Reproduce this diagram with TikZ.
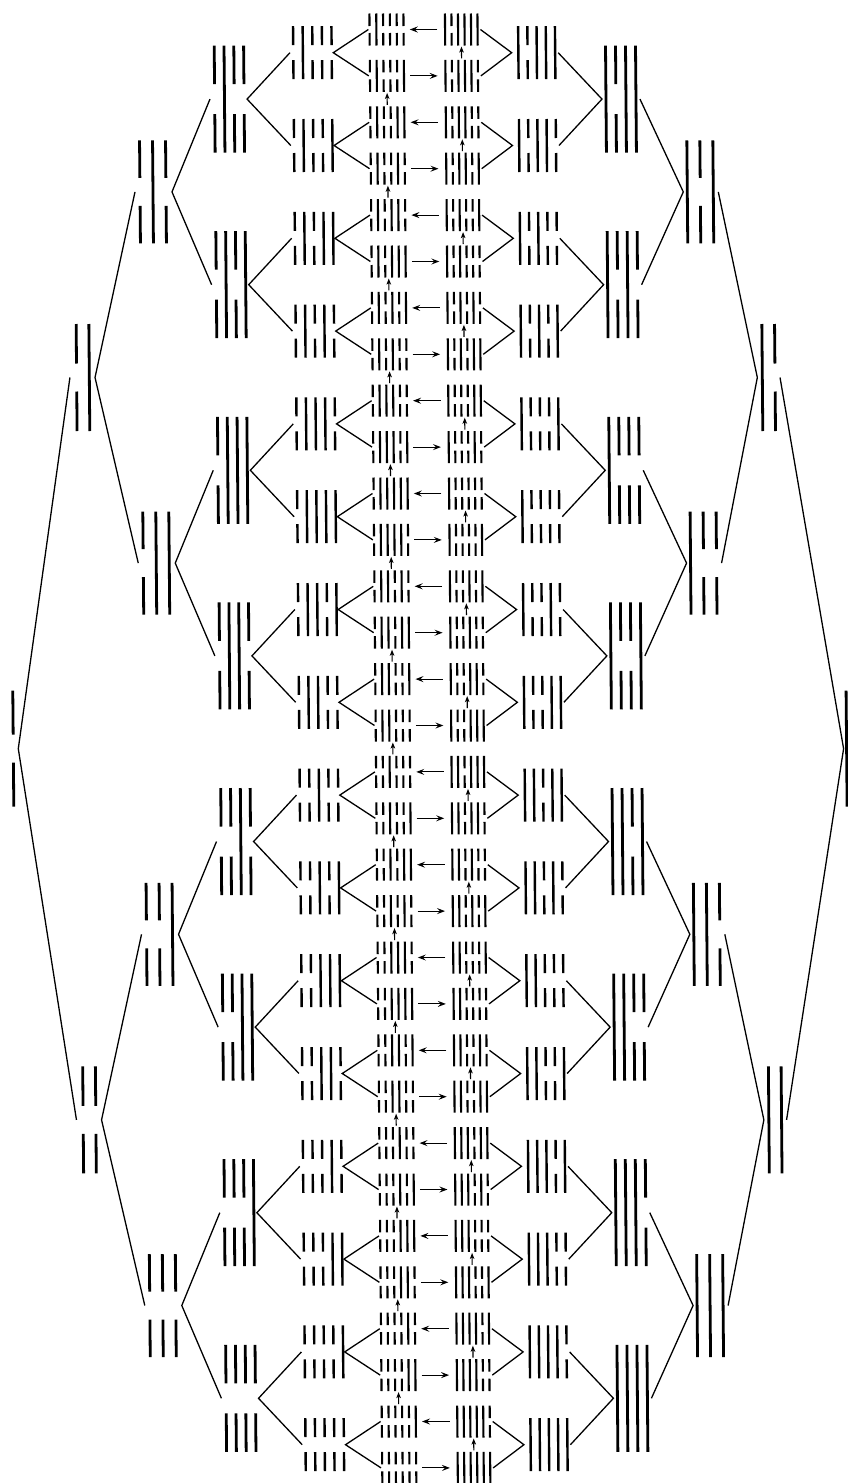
\documentclass[tikz,border=0pt]{standalone}
\usetikzlibrary{arrows.meta}
\newcommand\hexln[5]{%
  \ifnum#5=1
    \draw[line width=\qw pt] (#1,#2-#3) -- (#1,#2+#3);
  \else
    \draw[line width=\qw pt] (#1,#2-#3) -- (#1,#2-#4) (#1,#2+#4) -- (#1,#2+#3);
  \fi}
\tikzset{
  conn/.style={line width=1.3pt},
  harrow/.style={line width=1.1pt,-{Stealth[length=8pt,width=6pt,inset=3pt]}},
  varrow/.style={line width=1.1pt,-{Stealth[length=6pt,width=4.5pt,inset=1.5pt]},shorten <=1.5pt,shorten >=1pt}
}
\begin{document}
\begin{tikzpicture}[x=1pt,y=-1pt]
\useasboundingbox[fill=white] (0,0) rectangle (848,1483);
% per level parameters (index = number of lines)
\def\fL{{0,6.7,73.3,138.3,213.8,292.8,369.3}}
\def\pL{{0,0,12.7,13,9.8,9.6,6.8}}
\def\iL{{0,0,6.7,5,4.7,3.3,1.2}}
\def\oL{{0,5,5.7,6,3,1.6,0}}
\def\fR{{0,840,759,685.6,605.1,517.9,444.8}}
\def\pR{{0,0,12.7,13,10,9.2,6.5}}
\def\iR{{0,0,5,5,4,3,2.9}}
\def\oR{{0,3,5,4,4,6.7,0}}
\def\hH{{0,58,53.5,51.5,53.5,26.5,16}}
\def\hG{{0,14,14,14,15,7.5,3.5}}
\def\hW{{0,2.8,2.8,2.8,2.8,2.4,2.1}}
\begin{scope}[xslant=-0.0088]
\foreach \lev in {1,...,6} {
  \pgfmathtruncatemacro\NN{2^(\lev-1)}
  \pgfmathtruncatemacro\SP{2^(6-\lev)}
  \pgfmathsetmacro\qfl{\fL[\lev]}
  \pgfmathsetmacro\qpl{\pL[\lev]}
  \pgfmathsetmacro\qil{\iL[\lev]}
  \pgfmathsetmacro\qol{\oL[\lev]}
  \pgfmathsetmacro\qfr{\fR[\lev]}
  \pgfmathsetmacro\qpr{\pR[\lev]}
  \pgfmathsetmacro\qir{\iR[\lev]}
  \pgfmathsetmacro\qor{\oR[\lev]}
  \pgfmathsetmacro\qh{\hH[\lev]}
  \pgfmathsetmacro\qg{\hG[\lev]}
  \pgfmathsetmacro\qw{\hW[\lev]}
  \foreach \kk in {1,...,\NN} {
    \pgfmathsetmacro\qcy{29.5+46.4*((\kk-1)*\SP+(\SP-1)/2)}
    \pgfmathtruncatemacro\qj{\NN-\kk}
    \pgfmathsetmacro\qxl{\qfl+(\lev-1)*\qpl}
    \pgfmathsetmacro\qxr{\qfr+(\lev-1)*\qpr}
    \pgfmathsetmacro\qcl{(\qfl+\qxl)/2}
    \pgfmathsetmacro\qcr{(\qfr+\qxr)/2}
    \coordinate (L\lev-\kk-in) at (\qfl-\qil,\qcy);
    \coordinate (L\lev-\kk-out) at (\qxl+\qol,\qcy);
    \coordinate (L\lev-\kk-e) at (\qxl,\qcy);
    \coordinate (L\lev-\kk-top) at (\qcl,\qcy-\qh);
    \coordinate (L\lev-\kk-bot) at (\qcl,\qcy+\qh);
    \coordinate (R\lev-\kk-in) at (\qxr+\qir,\qcy);
    \coordinate (R\lev-\kk-out) at (\qfr-\qor,\qcy);
    \coordinate (R\lev-\kk-w) at (\qfr,\qcy);
    \coordinate (R\lev-\kk-top) at (\qcr,\qcy-\qh);
    \coordinate (R\lev-\kk-bot) at (\qcr,\qcy+\qh);
    \foreach \pp in {1,...,\lev} {
      \ifnum\pp=1 \def\qv{0}\else
        \pgfmathtruncatemacro\qb{\lev-\pp}
        \pgfmathtruncatemacro\qv{mod(floor(\qj/2^\qb)+floor(\qj/2^(\qb+1)),2)}
      \fi
      \pgfmathtruncatemacro\qvr{1-\qv}
      \pgfmathsetmacro\qx{\qfl+(\pp-1)*\qpl}
      \pgfmathsetmacro\qy{\qfr+(\pp-1)*\qpr}
      \hexln{\qx}{\qcy}{\qh}{\qg}{\qv}
      \hexln{\qy}{\qcy}{\qh}{\qg}{\qvr}
    }
  }
}
% tree connectors
\foreach \lev in {1,...,5} {
  \pgfmathtruncatemacro\NN{2^(\lev-1)}
  \pgfmathtruncatemacro\mm{\lev+1}
  \foreach \kk in {1,...,\NN} {
    \pgfmathtruncatemacro\ia{2*\kk-1}
    \pgfmathtruncatemacro\ib{2*\kk}
    \draw[conn] (L\mm-\ia-in) -- (L\lev-\kk-out) -- (L\mm-\ib-in);
    \draw[conn] (R\mm-\ia-in) -- (R\lev-\kk-out) -- (R\mm-\ib-in);
  }
}
% horizontal arrows
\foreach \ii in {1,...,32} {
  \ifodd\ii
    \draw[harrow,shorten <=7.8pt,shorten >=6.2pt] (R6-\ii-w) -- (L6-\ii-e);
  \else
    \draw[harrow,shorten <=6.2pt,shorten >=7.8pt] (L6-\ii-e) -- (R6-\ii-w);
  \fi
}
% vertical arrows
\foreach \kk in {1,...,16} {
  \pgfmathtruncatemacro\ia{2*\kk-1}
  \pgfmathtruncatemacro\ib{2*\kk}
  \draw[varrow] (R6-\ib-top) -- (R6-\ia-bot);
}
\foreach \kk in {1,...,15} {
  \pgfmathtruncatemacro\ia{2*\kk}
  \pgfmathtruncatemacro\ib{2*\kk+1}
  \draw[varrow] (L6-\ib-top) -- (L6-\ia-bot);
}
\end{scope}
\end{tikzpicture}
\end{document}
